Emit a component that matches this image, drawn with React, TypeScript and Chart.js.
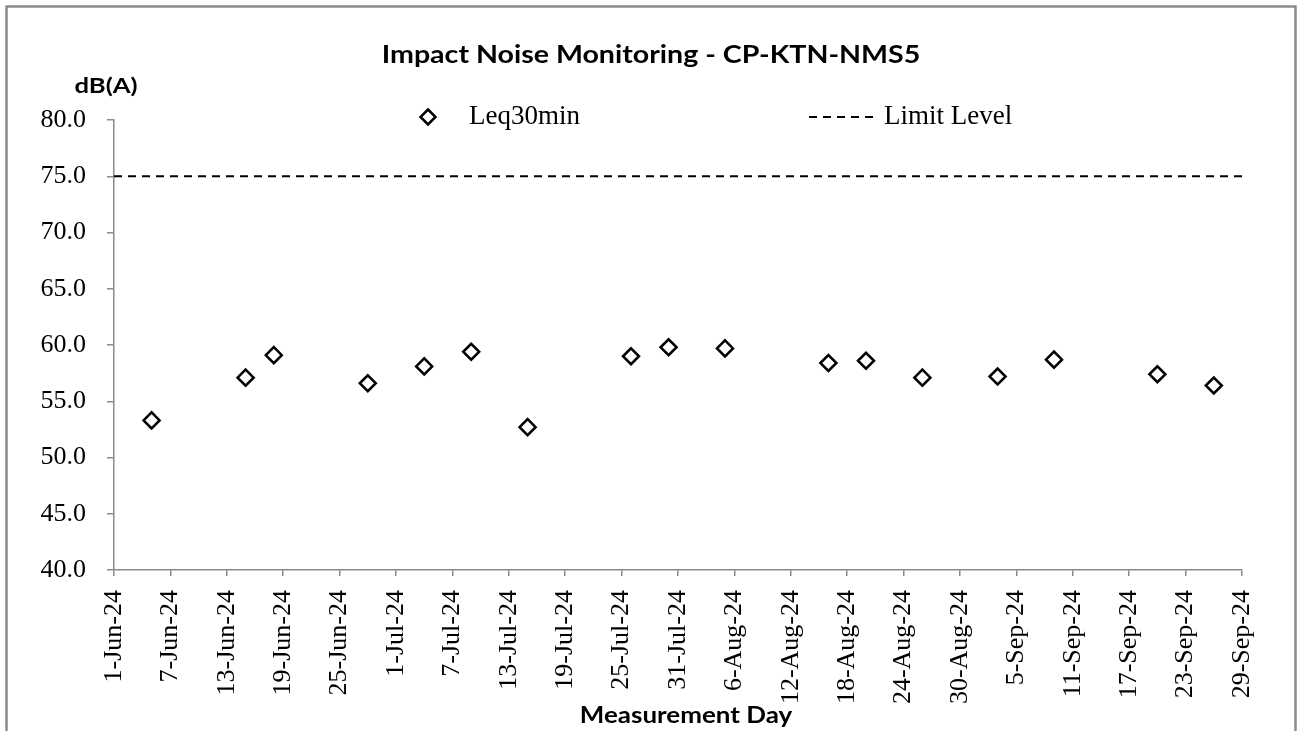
import React, { useEffect, useRef } from "react";
import { Chart, registerables } from "chart.js";

Chart.register(...registerables);

const chartTitle = "Impact Noise Monitoring - CP-KTN-NMS5";
const yAxisTitle = "dB(A)";
const xAxisTitle = "Measurement Day";
const seriesLabel = "Leq30min";
const limitLabel = "Limit Level";

const startDate = "2024-06-01";
const endDate = "2024-09-29";
const tickStepDays = 6;

const measurementDates = [
  "2024-06-05", "2024-06-15", "2024-06-18", "2024-06-28", "2024-07-04",
  "2024-07-09", "2024-07-15", "2024-07-26", "2024-07-30", "2024-08-05",
  "2024-08-16", "2024-08-20", "2024-08-26", "2024-09-03", "2024-09-09",
  "2024-09-20", "2024-09-26",
];
const leqValues = [
  53.3, 57.1, 59.1, 56.6, 58.1,
  59.4, 52.7, 59.0, 59.8, 59.7,
  58.4, 58.6, 57.1, 57.2, 58.7,
  57.4, 56.4,
];
const limitLevel = 75;
const yMin = 40;
const yMax = 80;
const yStep = 5;

const MONTHS = ["Jan", "Feb", "Mar", "Apr", "May", "Jun", "Jul", "Aug", "Sep", "Oct", "Nov", "Dec"];
const DAY_MS = 86400000;
const t0 = Date.parse(startDate + "T00:00:00Z");
const dayIndex = (d: string) => Math.round((Date.parse(d + "T00:00:00Z") - t0) / DAY_MS);
const fmtDay = (v: number) => {
  const d = new Date(t0 + v * DAY_MS);
  return `${d.getUTCDate()}-${MONTHS[d.getUTCMonth()]}-${String(d.getUTCFullYear()).slice(2)}`;
};

const SERIF = "'Liberation Serif', 'Times New Roman', serif";
const SANS = "Lato, 'Open Sans', sans-serif";

const drawStretched = (ctx: any, text: string, x: number, y: number, font: string, sx: number) => {
  ctx.save();
  ctx.translate(x, y);
  ctx.scale(sx, 1);
  ctx.font = font;
  ctx.textAlign = "center";
  ctx.textBaseline = "middle";
  ctx.fillText(text, 0, 0);
  ctx.restore();
};

const decorPlugin = {
  id: "decor",
  beforeDraw(chart: any) {
    const ctx = chart.ctx;
    ctx.save();
    ctx.fillStyle = "#fff";
    ctx.fillRect(0, 0, chart.width, chart.height);
    ctx.strokeStyle = "#8a8a8a";
    ctx.lineWidth = 2.5;
    ctx.strokeRect(6.5, 6.5, 1289, 760);
    ctx.restore();
  },
  afterDraw(chart: any) {
    const ctx = chart.ctx;
    ctx.save();
    ctx.fillStyle = "#000";
    drawStretched(ctx, chartTitle, 651, 55, `bold 24px ${SANS}`, 1.19);
    drawStretched(ctx, yAxisTitle, 106, 86, `bold 21px ${SANS}`, 1.22);
    drawStretched(ctx, xAxisTitle, 686, 716, `bold 22px ${SANS}`, 1.18);

    // legend
    const ly = 117;
    ctx.strokeStyle = "#000";
    ctx.lineWidth = 2.5;
    ctx.beginPath();
    const r = 7.5;
    const dx = 428;
    ctx.moveTo(dx, ly - r);
    ctx.lineTo(dx + r, ly);
    ctx.lineTo(dx, ly + r);
    ctx.lineTo(dx - r, ly);
    ctx.closePath();
    ctx.stroke();
    ctx.textAlign = "left";
    ctx.textBaseline = "middle";
    ctx.font = `27px ${SERIF}`;
    ctx.fillText(seriesLabel, 469, ly);
    ctx.lineWidth = 2;
    ctx.setLineDash([8, 6]);
    ctx.beginPath();
    ctx.moveTo(809, ly);
    ctx.lineTo(873, ly);
    ctx.stroke();
    ctx.setLineDash([]);
    ctx.fillText(limitLabel, 884, ly);
    ctx.restore();
  },
};

export default function App() {
  const ref = useRef<HTMLCanvasElement | null>(null);
  useEffect(() => {
    if (!ref.current) return;
    const lastDay = dayIndex(endDate);
    const chart = new Chart(ref.current, {
      type: "scatter",
      data: {
        datasets: [
          {
            label: seriesLabel,
            data: measurementDates.map((d, i) => ({ x: dayIndex(d), y: leqValues[i] })),
            pointStyle: "rectRot",
            radius: 8,
            borderWidth: 2.5,
            borderColor: "#000",
            backgroundColor: "rgba(255,255,255,0)",
          },
          {
            label: limitLabel,
            type: "line",
            data: [
              { x: 0, y: limitLevel },
              { x: lastDay, y: limitLevel },
            ],
            borderColor: "#000",
            borderWidth: 2,
            borderDash: [8, 6],
            pointRadius: 0,
            fill: false,
          } as any,
        ],
      },
      options: {
        responsive: false,
        animation: false,
        devicePixelRatio: 1,
        layout: { padding: { top: 120, right: 62, left: 0, bottom: 0 } },
        plugins: {
          legend: { display: false },
          tooltip: { enabled: false },
          title: { display: false },
        },
        scales: {
          x: {
            type: "linear",
            min: 0,
            max: lastDay,
            afterFit: (s: any) => {
              s.height = 161;
            },
            afterBuildTicks: (s: any) => {
              const t = [];
              for (let v = 0; v <= lastDay; v += tickStepDays) t.push({ value: v });
              s.ticks = t;
            },
            ticks: {
              autoSkip: false,
              minRotation: 90,
              maxRotation: 90,
              padding: 14,
              color: "#000",
              font: { family: SERIF, size: 26 },
              callback: (v: any) => fmtDay(Number(v)),
            },
            grid: {
              drawOnChartArea: false,
              drawTicks: true,
              tickLength: 6,
              color: "#8a8a8a",
              lineWidth: 1.5,
            },
            border: { color: "#8a8a8a", width: 1.5 },
          },
          y: {
            min: yMin,
            max: yMax,
            afterFit: (s: any) => {
              s.width = 114;
            },
            ticks: {
              stepSize: yStep,
              padding: 21,
              color: "#000",
              font: { family: SERIF, size: 26 },
              callback: (v: any) => Number(v).toFixed(1),
            },
            grid: {
              drawOnChartArea: false,
              drawTicks: true,
              tickLength: 7,
              color: "#8a8a8a",
              lineWidth: 1.5,
            },
            border: { color: "#8a8a8a", width: 1.5 },
          },
        },
      },
      plugins: [decorPlugin],
    });
    return () => chart.destroy();
  }, []);
  return (
    <div style={{ position: "absolute", left: 0, top: 0, width: 1304, height: 731, overflow: "hidden" }}>
      <canvas ref={ref} width={1304} height={731} style={{ display: "block" }} />
    </div>
  );
}
